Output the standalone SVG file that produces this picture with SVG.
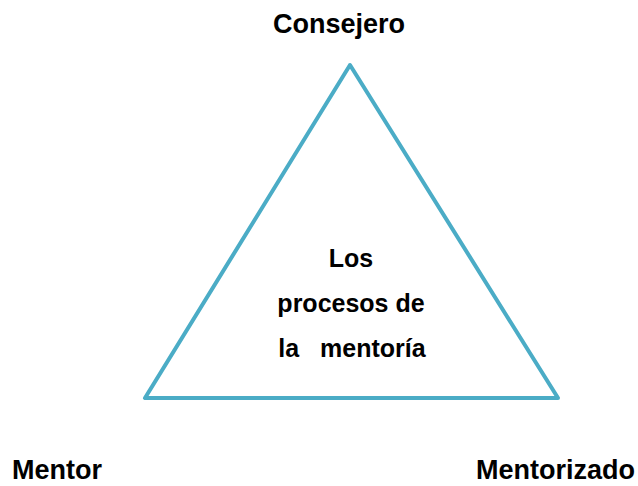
<svg xmlns="http://www.w3.org/2000/svg" width="638" height="486" viewBox="0 0 638 486">
<style>
.t{font-family:"Liberation Sans",Arial,sans-serif;font-weight:bold;fill:#000;white-space:pre}
.lg{font-size:27px}
.sm{font-size:25px}
.tri{fill:none;stroke:#4BACC6;stroke-width:4;stroke-linejoin:round}
</style>
<rect width="638" height="486" fill="#fff"/>
<g id="connectors">
<polygon class="tri" points="350,65 145,398 558,398"/>
</g>
<g id="consejero"><text class="t lg" x="339" y="33" text-anchor="middle">Consejero</text></g>
<g id="mentor"><text class="t lg" x="12" y="479">Mentor</text></g>
<g id="mentorizado"><text class="t lg" x="635" y="479" text-anchor="end">Mentorizado</text></g>
<g id="centro">
<text class="t sm" x="351" y="267" text-anchor="middle">Los</text>
<text class="t sm" x="351" y="312" text-anchor="middle">procesos de</text>
<text class="t sm" x="352" y="357" text-anchor="middle" xml:space="preserve">la   mentoría</text>
</g>
</svg>
